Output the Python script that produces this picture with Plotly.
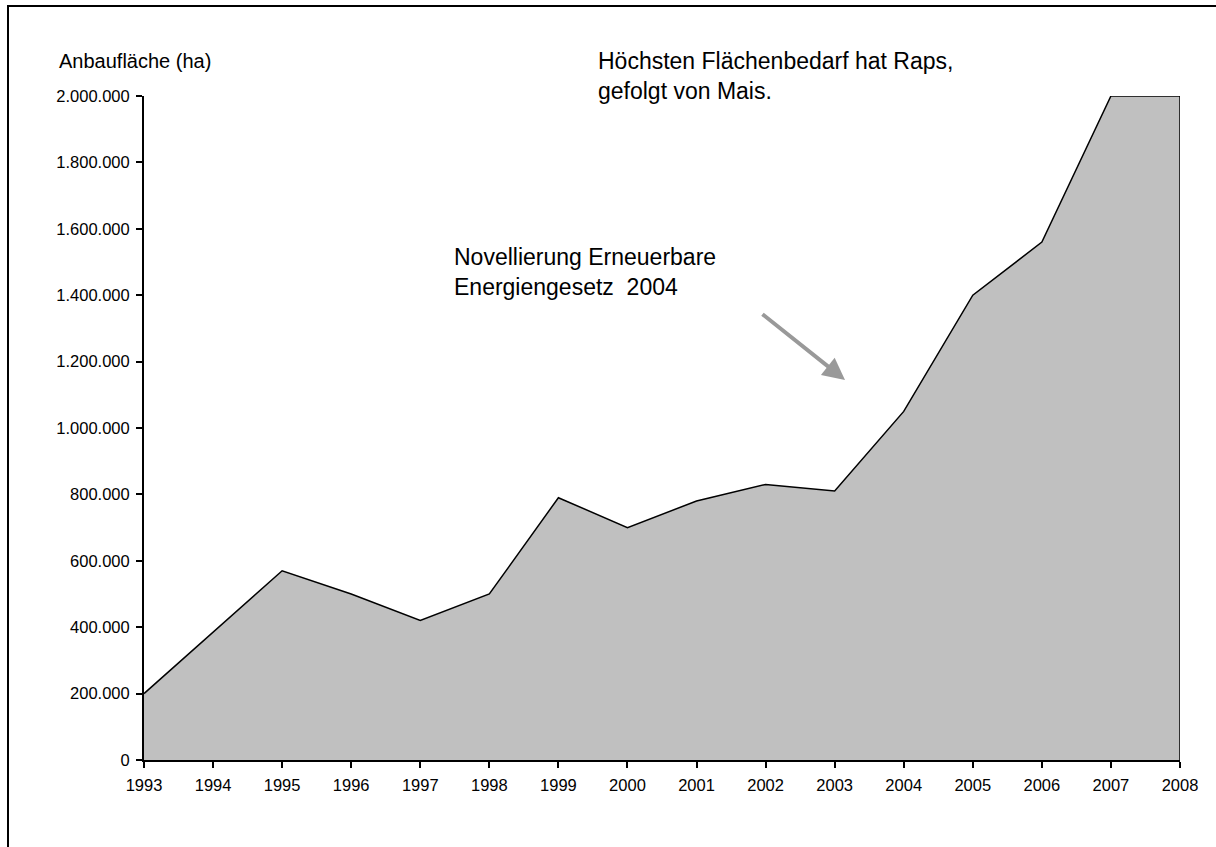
import plotly.graph_objects as go

years = list(range(1993, 2009))
area_ha = [200000, 385000, 570000, 500000, 420000, 500000, 790000, 700000,
           780000, 830000, 810000, 1050000, 1400000, 1560000, 2000000, 2000000]
y_ticks = [0, 200000, 400000, 600000, 800000, 1000000, 1200000, 1400000,
           1600000, 1800000, 2000000]
y_tick_labels = ["0", "200.000", "400.000", "600.000", "800.000", "1.000.000",
                 "1.200.000", "1.400.000", "1.600.000", "1.800.000", "2.000.000"]

W, H = 1216, 847
L, R, T, B = 144, 36, 96, 87
PW, PH = W - L - R, H - T - B


def px(x):
    return (x - L) / PW


def py(y):
    return (H - B - y) / PH


FONT = "Liberation Sans, Arial, sans-serif"

fig = go.Figure()
fig.add_trace(go.Scatter(x=years, y=area_ha, mode="lines", fill="tozeroy",
                         fillcolor="#C0C0C0", line=dict(color="black", width=1.5),
                         hoverinfo="skip", showlegend=False))
# right closing edge of the area
fig.add_trace(go.Scatter(x=[years[-1], years[-1]], y=[0, area_ha[-1]], mode="lines",
                         line=dict(color="black", width=1.5), hoverinfo="skip",
                         showlegend=False))


def text_ann(txt, x, y, size):
    return dict(text=txt, xref="paper", yref="paper", x=px(x), y=py(y),
                xanchor="left", yanchor="middle", showarrow=False, align="left",
                font=dict(size=size, family=FONT, color="black"))


fig.update_layout(
    width=W, height=H,
    margin=dict(l=L, r=R, t=T, b=B),
    paper_bgcolor="white", plot_bgcolor="white",
    font=dict(family=FONT, size=16.5, color="black"),
    xaxis=dict(range=[1993, 2008], tickmode="array", tickvals=years,
               ticktext=[str(y) for y in years], showgrid=False, zeroline=False,
               showline=True, linecolor="black", linewidth=2, ticks="outside",
               ticklen=6, tickwidth=1.5, tickcolor="black", ticklabelstandoff=3,
               tickfont=dict(size=16.5)),
    yaxis=dict(range=[0, 2000000], tickmode="array", tickvals=y_ticks,
               ticktext=y_tick_labels, showgrid=False, zeroline=False,
               showline=True, linecolor="black", linewidth=2, ticks="outside",
               ticklen=6, tickwidth=1.5, tickcolor="black", ticklabelstandoff=3,
               tickfont=dict(size=16.5)),
    shapes=[
        dict(type="rect", xref="paper", yref="paper",
             x0=px(8), x1=px(1240), y0=py(880), y1=py(6),
             line=dict(color="black", width=2), fillcolor="rgba(0,0,0,0)",
             layer="below"),
    ],
    annotations=[
        text_ann("Anbaufläche (ha)", 57, 61, 20),
        text_ann("Höchsten Flächenbedarf hat Raps,<br>gefolgt von Mais.", 596, 76, 23),
        text_ann("Novellierung Erneuerbare<br>Energiengesetz  2004", 452, 272, 23),
        dict(text="", xref="paper", yref="paper", x=px(845), y=py(380),
             ax=761 - 845, ay=313 - 380, axref="pixel", ayref="pixel",
             showarrow=True, arrowhead=2, arrowsize=1.1, arrowwidth=4,
             arrowcolor="#999999"),
    ],
)

fig.write_html("out.html", config={"displayModeBar": False},
               post_script="document.body.style.margin='0';")
